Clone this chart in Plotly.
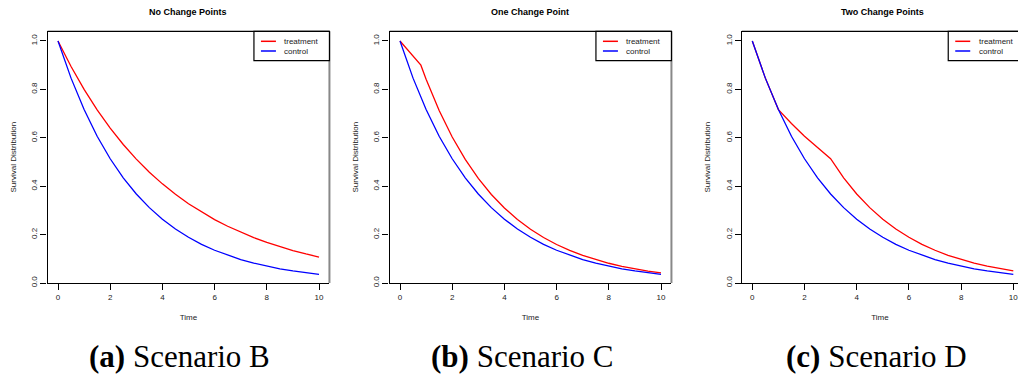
import plotly.graph_objects as go

W, H = 1018, 383

# ---------------- data ----------------
t_ctrl = [0, 0.5, 1, 1.5, 2, 2.5, 3, 3.5, 4, 4.5, 5, 5.5, 6, 6.5, 7, 7.5, 8, 8.5, 9, 9.5, 10]
s_ctrl = [1.0, 0.8465, 0.7165, 0.6065, 0.5134, 0.4346, 0.3679, 0.3114, 0.2636, 0.2231, 0.1889,
          0.1599, 0.1353, 0.1146, 0.0970, 0.0821, 0.0695, 0.0588, 0.0498, 0.0421, 0.0357]

# Scenario B treatment
t_trt_b = [0, 0.5, 1, 1.5, 2, 2.5, 3, 3.5, 4, 4.5, 5, 5.5, 6, 6.5, 7, 7.5, 8, 8.5, 9, 9.5, 10]
s_trt_b = [1.0, 0.8944, 0.8, 0.7155, 0.64, 0.5724, 0.512, 0.4579, 0.4096, 0.3664, 0.3277,
           0.2931, 0.2621, 0.2345, 0.2097, 0.1876, 0.1678, 0.1501, 0.1342, 0.1201, 0.1074]

# Scenario C treatment (one change point)
t_trt_c = [0, 0.4, 0.8, 1, 1.5, 2, 2.5, 3, 3.5, 4, 4.5, 5, 5.5, 6, 6.5, 7, 7.5, 8, 8.5, 9, 9.5, 10]
s_trt_c = [1.0, 0.9487, 0.9, 0.842, 0.7127, 0.6033, 0.5107, 0.4323, 0.3659, 0.3098, 0.2622, 0.2219,
           0.1879, 0.159, 0.1346, 0.114, 0.0965, 0.0816, 0.0691, 0.0585, 0.0495, 0.0419]

# Scenario D treatment (two change points)
t_trt_d = [0, 0.5, 1, 1.5, 2, 2.5, 3, 3.5, 4, 4.5, 5, 5.5, 6, 6.5, 7, 7.5, 8, 8.5, 9, 9.5, 10]
s_trt_d = [1.0, 0.8465, 0.7165, 0.6592, 0.6065, 0.558, 0.5134, 0.4346, 0.3679, 0.3114, 0.2636,
           0.2231, 0.1889, 0.1599, 0.1353, 0.1146, 0.097, 0.0821, 0.0695, 0.0588, 0.0498]

titles = ["No Change Points", "One Change Point", "Two Change Points"]
captions = [("(a)", "Scenario B"), ("(b)", "Scenario C"), ("(c)", "Scenario D")]
series_names = ["treatment", "control"]
series_colors = ["#ff0000", "#0000ff"]
x_ticks = [0, 2, 4, 6, 8, 10]
y_ticks = [0.0, 0.2, 0.4, 0.6, 0.8, 1.0]
y_ticklabels = ["0.0", "0.2", "0.4", "0.6", "0.8", "1.0"]

treat_series = [(t_trt_b, s_trt_b), (t_trt_c, s_trt_c), (t_trt_d, s_trt_d)]

# ---------------- layout geometry (pixels) ----------------
x0_px = [58.0, 400.0, 752.3]       # pixel of time = 0
unit = 26.1                         # pixels per time unit
top_px, bot_px = 31.3, 283.0
cap_x = [179, 522, 876]
title_x = [188, 530, 882]

SANS = "Liberation Sans, Arial, sans-serif"
SERIF = "Liberation Serif, Times New Roman, serif"


def px(x):
    return x / W


def py(y):
    return 1 - y / H


fig = go.Figure()
layout = dict(
    width=W, height=H,
    margin=dict(l=0, r=0, t=0, b=0, autoexpand=False),
    paper_bgcolor="white", plot_bgcolor="white",
    showlegend=False,
)
annotations = []
shapes = []

for i in range(3):
    ax = "" if i == 0 else str(i + 1)
    left_px = x0_px[i] - 0.4 * unit
    full_right = x0_px[i] + 10.4 * unit
    right_px = min(full_right, W)
    xr = [-0.4, -0.4 + (right_px - left_px) / unit]

    tt, ss = treat_series[i]
    fig.add_trace(go.Scatter(x=tt, y=ss, mode="lines", name=series_names[0],
                             line=dict(color=series_colors[0], width=1.3),
                             xaxis="x" + ax, yaxis="y" + ax))
    fig.add_trace(go.Scatter(x=t_ctrl, y=s_ctrl, mode="lines", name=series_names[1],
                             line=dict(color=series_colors[1], width=1.3),
                             xaxis="x" + ax, yaxis="y" + ax))

    layout["xaxis" + ax] = dict(
        domain=[px(left_px), px(right_px)], range=xr, anchor="y" + ax,
        tickvals=x_ticks, ticktext=[str(v) for v in x_ticks],
        ticks="outside", ticklen=6, tickcolor="black", tickwidth=1,
        showline=True, linecolor="black", linewidth=1.3, mirror=False,
        showgrid=False, zeroline=False, ticklabeloverflow="allow",
        tickfont=dict(family=SANS, size=8, color="#222"),
        title=dict(text="Time", font=dict(family=SANS, size=8, color="#222"), standoff=13),
    )
    layout["yaxis" + ax] = dict(
        domain=[py(bot_px), py(top_px)], range=[0, 1.04], anchor="x" + ax,
        tickvals=y_ticks, ticktext=y_ticklabels, tickangle=-90,
        ticks="outside", ticklen=6, tickcolor="black", tickwidth=1,
        showline=True, linecolor="black", linewidth=1.3, mirror=False,
        showgrid=False, zeroline=False,
        tickfont=dict(family=SANS, size=8, color="#222"),
        title=dict(text="Survival Distribution", font=dict(family=SANS, size=8, color="#222"),
                   standoff=12),
    )
    # top border
    shapes.append(dict(type="line", xref="x" + ax + " domain", yref="y" + ax + " domain",
                       x0=0, x1=1, y0=1, y1=1, line=dict(color="black", width=1.3)))
    # right border (grey)
    if i < 2:
        shapes.append(dict(type="line", xref="x" + ax + " domain", yref="y" + ax + " domain",
                           x0=1, x1=1, y0=0, y1=1, line=dict(color="#888", width=2)))

    # legend (drawn as a boxed key in the top-right corner)
    lb = full_right - 75.5
    shapes.append(dict(type="rect", xref="paper", yref="paper",
                       x0=px(lb), x1=px(full_right), y0=py(60.7), y1=py(top_px),
                       line=dict(color="black", width=1.2), fillcolor="white", layer="above"))
    for k, yrow in enumerate([41.3, 51.0]):
        shapes.append(dict(type="line", xref="paper", yref="paper",
                           x0=px(lb + 7), x1=px(lb + 22), y0=py(yrow), y1=py(yrow),
                           line=dict(color=series_colors[k], width=1.5), layer="above"))
        annotations.append(dict(text=series_names[k], x=px(lb + 28.5), y=py(yrow),
                                xref="paper", yref="paper", xanchor="left", yanchor="middle",
                                showarrow=False,
                                font=dict(family=SANS, size=8, color="#222")))

    annotations.append(dict(text="<b>" + titles[i] + "</b>", x=px(title_x[i]), y=py(12),
                            xref="paper", yref="paper", xanchor="center", yanchor="middle",
                            showarrow=False,
                            font=dict(family=SANS, size=9, color="black")))
    lab, txt = captions[i]
    annotations.append(dict(text="<b>" + lab + "</b> " + txt, x=px(cap_x[i]), y=py(356),
                            xref="paper", yref="paper", xanchor="center", yanchor="middle",
                            showarrow=False,
                            font=dict(family=SERIF, size=31, color="black")))

layout["annotations"] = annotations
layout["shapes"] = shapes
fig.update_layout(**layout)
fig.write_html("out.html", config={"displayModeBar": False},
               post_script="document.body.style.margin='0';document.body.style.overflow='hidden';")
